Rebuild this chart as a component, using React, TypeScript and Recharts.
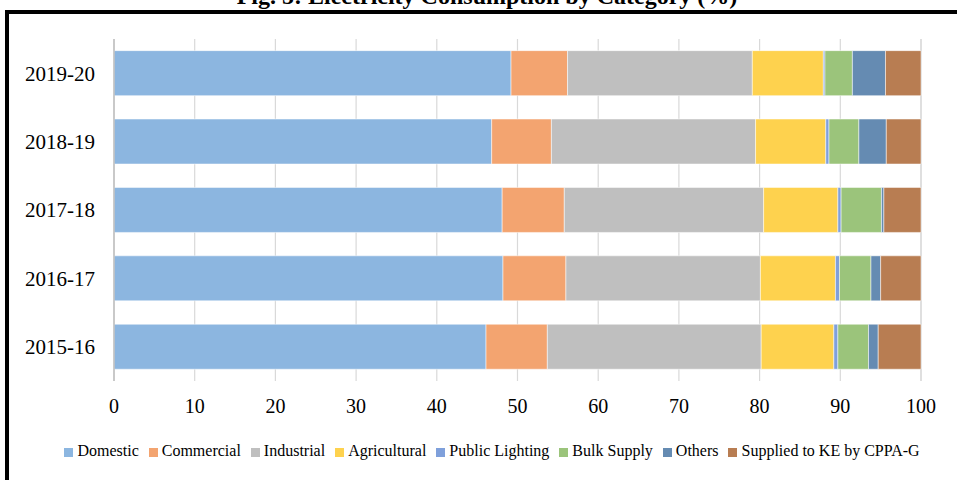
import React from 'react';
import { BarChart, Bar, XAxis, YAxis, CartesianGrid, Legend } from 'recharts';

const years = ['2019-20', '2018-19', '2017-18', '2016-17', '2015-16'];

const domestic = [49.2, 46.8, 48.1, 48.2, 46.1];
const commercial = [7.0, 7.4, 7.7, 7.8, 7.6];
const industrial = [22.9, 25.3, 24.7, 24.1, 26.5];
const agricultural = [8.8, 8.7, 9.2, 9.3, 9.0];
const publicLighting = [0.2, 0.4, 0.4, 0.5, 0.5];
const bulkSupply = [3.4, 3.7, 5.0, 3.9, 3.8];
const others = [4.1, 3.4, 0.3, 1.2, 1.2];
const suppliedKE = [4.4, 4.3, 4.6, 5.0, 5.3];

const xTicks = [0, 10, 20, 30, 40, 50, 60, 70, 80, 90, 100];

const series = [
  { key: 'domestic', name: 'Domestic', color: '#8cb6e0', values: domestic },
  { key: 'commercial', name: 'Commercial', color: '#f3a470', values: commercial },
  { key: 'industrial', name: 'Industrial', color: '#bfbfbf', values: industrial },
  { key: 'agricultural', name: 'Agricultural', color: '#fed24e', values: agricultural },
  { key: 'publicLighting', name: 'Public Lighting', color: '#7fa0db', values: publicLighting },
  { key: 'bulkSupply', name: 'Bulk Supply', color: '#9bc47b', values: bulkSupply },
  { key: 'others', name: 'Others', color: '#658bb2', values: others },
  { key: 'suppliedKE', name: 'Supplied to KE by CPPA-G', color: '#b87d52', values: suppliedKE },
];

const data = years.map((year, i) => {
  const row: Record<string, string | number> = { year };
  series.forEach((s) => {
    row[s.key] = s.values[i];
  });
  return row;
});

const seriesOrder = (item: any) => series.findIndex((s) => s.key === item.dataKey || s.name === item.value);

const font = '"Liberation Serif", "Times New Roman", serif';

export default function App() {
  return (
    <div style={{ position: 'absolute', left: 0, top: 0, width: 957, height: 480, overflow: 'hidden', background: '#fff' }}>
      <div
        style={{
          position: 'absolute',
          top: -16,
          left: 0,
          width: 974,
          textAlign: 'center',
          fontFamily: font,
          fontWeight: 'bold',
          fontSize: 24,
          lineHeight: '24px',
          color: '#000',
        }}
      >
        Fig. 5: Electricity Consumption by Category (%)
      </div>
      <div
        style={{
          position: 'absolute',
          top: 10,
          left: 5,
          width: 1000,
          height: 600,
          border: '4px solid #000',
          boxSizing: 'border-box',
        }}
      />
      <div style={{ position: 'absolute', left: 0, top: 0 }}>
        <BarChart
          width={957}
          height={480}
          data={data}
          layout="vertical"
          barCategoryGap="17%"
          margin={{ top: 39, right: 36, left: 0, bottom: 69 }}
          style={{ fontFamily: font }}
        >
          <CartesianGrid horizontal={false} stroke="#d9d9d9" strokeWidth={1.2} />
          <XAxis
            type="number"
            domain={[0, 100]}
            ticks={xTicks}
            axisLine={false}
            tickLine={false}
            tickSize={0}
            tickMargin={18}
            height={30}
            tick={{ fill: '#000', fontSize: 20, fontFamily: font }}
          />
          <YAxis
            type="category"
            dataKey="year"
            width={114}
            axisLine={{ stroke: '#bfbfbf', strokeWidth: 1.5 }}
            tickLine={false}
            tickSize={0}
            tickMargin={19}
            tick={{ fill: '#000', fontSize: 21, fontFamily: font }}
          />
          <Legend
            verticalAlign="middle"
            iconType="square"
            iconSize={9}
            itemSorter={seriesOrder}
            wrapperStyle={{ top: 442, left: 37, width: 920, fontFamily: font, fontSize: 16, lineHeight: '18px' }}
            formatter={(value: string) => (
              <span style={{ color: '#000', fontFamily: font, fontSize: 16 }}>{value}</span>
            )}
          />
          {series.map((s) => (
            <Bar
              key={s.key}
              dataKey={s.key}
              name={s.name}
              stackId="a"
              fill={s.color}
              stroke="#ffffff"
              strokeOpacity={0.5}
              strokeWidth={1}
              isAnimationActive={false}
            />
          ))}
        </BarChart>
      </div>
    </div>
  );
}
